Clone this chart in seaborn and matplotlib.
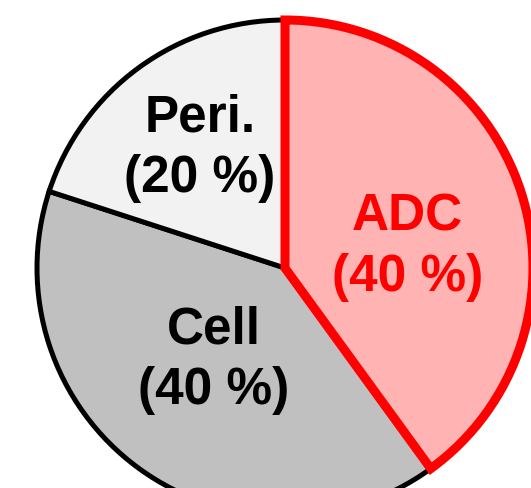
import matplotlib
matplotlib.use("Agg")
import matplotlib.pyplot as plt
import seaborn as sns

sns.set_style("white")
plt.rcParams['font.family'] = ['Liberation Sans', 'DejaVu Sans']

labels = ["ADC", "Cell", "Peri."]
values = [40, 40, 20]
fill_colors = ["#ffb3b3", "#c0c0c0", "#f2f2f2"]
edge_colors = ["#ff0000", "#000000", "#000000"]
text_colors = ["#ff0000", "#000000", "#000000"]
text_pos = [(0.495, 0.085), (-0.286, -0.371), (-0.343, 0.484)]

fig = plt.figure(figsize=(5.31, 4.88), dpi=100)
ax = fig.add_axes([0, 0, 1, 1])
wedges, _ = ax.pie(values, colors=fill_colors, startangle=90, counterclock=False,
                   radius=1.0, center=(0, 0))
for w, ec in zip(wedges, edge_colors):
    w.set_edgecolor(ec)
    if ec == "#ff0000":
        w.set_linewidth(6.5)
        w.set_zorder(5)
    else:
        w.set_linewidth(3.6)
        w.set_zorder(3)
    w.set_joinstyle("miter")

for lab, v, (x, y), tc in zip(labels, values, text_pos, text_colors):
    ax.text(x, y, f"{lab}\n({v} %)", ha="center", va="center", fontsize=37,
            fontweight="bold", color=tc, linespacing=1.3, zorder=10)

s = 248.0
ax.set_xlim(-285 / s, (531 - 285) / s)
ax.set_ylim(-(488 - 268) / s, 268 / s)
ax.set_aspect("auto")
ax.axis("off")
fig.savefig("out.png", dpi=100)
